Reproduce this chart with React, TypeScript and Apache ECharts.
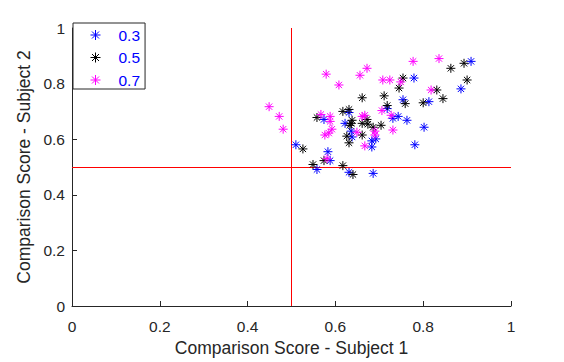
import React, { useEffect, useRef } from "react";
import * as echarts from "echarts";

const xTicks = [0, 0.2, 0.4, 0.6, 0.8, 1];
const yTicks = [0, 0.2, 0.4, 0.6, 0.8, 1];
const seriesNames = ["0.3", "0.5", "0.7"];
const seriesColors = ["#0000ff", "#000000", "#ff00ff"];

const blue03: number[][] = [
  [0.510, 0.580], [0.558, 0.491], [0.574, 0.671], [0.583, 0.555], [0.588, 0.523],
  [0.622, 0.657], [0.631, 0.696], [0.636, 0.629], [0.638, 0.608], [0.631, 0.481],
  [0.683, 0.594], [0.692, 0.601], [0.683, 0.572], [0.686, 0.477], [0.718, 0.710],
  [0.731, 0.675], [0.743, 0.682], [0.763, 0.668], [0.779, 0.820], [0.754, 0.742],
  [0.813, 0.735], [0.802, 0.643], [0.781, 0.580], [0.886, 0.781], [0.909, 0.880],
];

const black05: number[][] = [
  [0.526, 0.565], [0.549, 0.509], [0.574, 0.523], [0.558, 0.678], [0.617, 0.700],
  [0.631, 0.707], [0.636, 0.657], [0.638, 0.668], [0.633, 0.650], [0.626, 0.611],
  [0.631, 0.587], [0.617, 0.505], [0.640, 0.473], [0.661, 0.749], [0.661, 0.657],
  [0.661, 0.615], [0.672, 0.671], [0.674, 0.654], [0.686, 0.643], [0.704, 0.650],
  [0.711, 0.756], [0.718, 0.721], [0.745, 0.784], [0.754, 0.820], [0.759, 0.728],
  [0.800, 0.731], [0.831, 0.777], [0.845, 0.746], [0.863, 0.855], [0.893, 0.873],
  [0.900, 0.813],
];

const magenta07: number[][] = [
  [0.449, 0.717], [0.472, 0.682], [0.481, 0.636], [0.567, 0.689], [0.579, 0.834],
  [0.608, 0.795], [0.656, 0.830], [0.672, 0.855], [0.708, 0.813], [0.724, 0.813],
  [0.749, 0.806], [0.777, 0.880], [0.836, 0.890], [0.818, 0.777], [0.706, 0.703],
  [0.727, 0.686], [0.731, 0.633], [0.661, 0.682], [0.667, 0.686], [0.649, 0.625],
  [0.690, 0.629], [0.690, 0.615], [0.667, 0.576], [0.588, 0.682], [0.588, 0.664],
  [0.592, 0.636], [0.576, 0.615], [0.585, 0.622], [0.581, 0.530],
];

const refX = 0.5;
const refY = 0.5;

const STAR =
  "path://M5,0 L5,10 M0,5 L10,5 M1.5,1.5 L8.5,8.5 M1.5,8.5 L8.5,1.5";

export default function App() {
  const ref = useRef<HTMLDivElement>(null);
  useEffect(() => {
    if (!ref.current) return;
    const chart = echarts.init(ref.current, undefined, { renderer: "svg" });
    const font = "'Liberation Sans', Arial, Helvetica, sans-serif";
    const textColor = "#262626";
    const datasets = [blue03, black05, magenta07];
    const scatterSeries: any[] = datasets.map((d, i) => ({
      type: "scatter",
      name: seriesNames[i],
      data: d,
      symbol: STAR,
      symbolSize: 9,
      z: 3,
      itemStyle: {
        color: seriesColors[i],
        borderColor: seriesColors[i],
        borderWidth: 1,
        opacity: 1,
      },
    }));
    scatterSeries[0].markLine = {
      silent: true,
      symbol: "none",
      z: 1,
      label: { show: false },
      lineStyle: { color: "#ff0000", width: 1, type: "solid" },
      emphasis: { disabled: true },
      data: [{ xAxis: refX }, { yAxis: refY }],
    };
    chart.setOption({
      animation: false,
      backgroundColor: "#ffffff",
      textStyle: { fontFamily: font },
      grid: { left: 72, right: 53, top: 28, bottom: 51, containLabel: false },
      legend: {
        orient: "vertical",
        left: 73,
        top: 23,
        padding: [4, 5, 1, 17],
        itemGap: 6.5,
        itemWidth: 36,
        itemHeight: 10,
        itemTextGap: 5,
        backgroundColor: "#ffffff",
        borderColor: textColor,
        borderWidth: 1,
        borderRadius: 0,
        symbolKeepAspect: true,
        textStyle: {
          color: "#0000ff",
          fontSize: 15.5,
          lineHeight: 16,
          fontFamily: font,
        },
        data: seriesNames.map((n, i) => ({
          name: n,
          icon: STAR,
          itemStyle: {
            color: seriesColors[i],
            borderColor: seriesColors[i],
            borderWidth: 1,
          },
        })),
      },
      xAxis: {
        type: "value",
        min: xTicks[0],
        max: xTicks[xTicks.length - 1],
        interval: 0.2,
        name: "Comparison Score - Subject 1",
        nameLocation: "middle",
        nameGap: 33,
        nameTextStyle: { color: textColor, fontSize: 17.5, fontFamily: font },
        axisLine: { show: true, lineStyle: { color: textColor, width: 1 } },
        axisTick: { show: true, inside: true, length: 5, lineStyle: { color: textColor } },
        axisLabel: {
          color: textColor,
          fontSize: 15.5,
          margin: 12,
          fontFamily: font,
          formatter: (v: number) => String(Math.round(v * 10) / 10),
        },
        splitLine: { show: false },
      },
      yAxis: {
        type: "value",
        min: yTicks[0],
        max: yTicks[yTicks.length - 1],
        interval: 0.2,
        name: "Comparison Score - Subject 2",
        nameLocation: "middle",
        nameGap: 30,
        nameTextStyle: { color: textColor, fontSize: 17.5, fontFamily: font },
        axisLine: { show: true, lineStyle: { color: textColor, width: 1 } },
        axisTick: { show: true, inside: true, length: 5, lineStyle: { color: textColor } },
        axisLabel: {
          color: textColor,
          fontSize: 15.5,
          margin: 7,
          fontFamily: font,
          formatter: (v: number) => String(Math.round(v * 10) / 10),
        },
        splitLine: { show: false },
      },
      series: scatterSeries,
    });
    return () => chart.dispose();
  }, []);
  return (
    <div
      ref={ref}
      style={{ position: "fixed", left: 0, top: 0, width: 564, height: 362 }}
    />
  );
}
